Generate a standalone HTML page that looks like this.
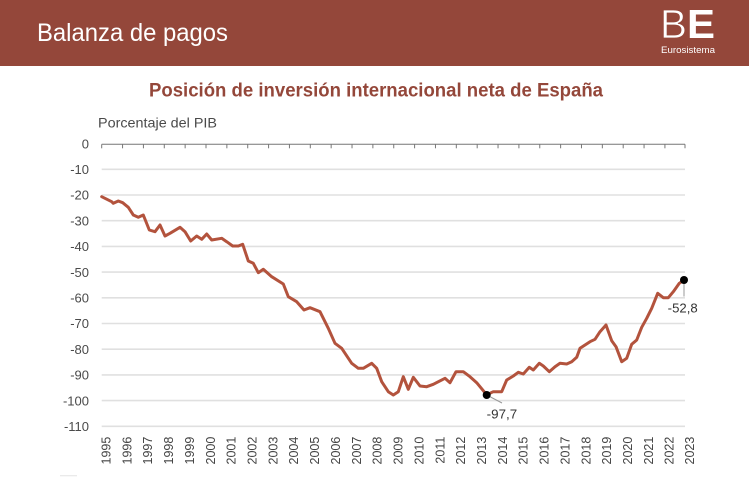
<!DOCTYPE html>
<html><head><meta charset="utf-8"><style>
html,body{margin:0;padding:0;background:#fff;}
svg{display:block;}
text{font-family:"Liberation Sans",Arial,sans-serif;}
</style></head><body>
<svg width="749" height="499" viewBox="0 0 749 499" xmlns="http://www.w3.org/2000/svg">
<rect x="0" y="0" width="749" height="66" fill="#94473a"/>
<text x="37" y="41" font-size="25" fill="#fff" textLength="191" lengthAdjust="spacingAndGlyphs">Balanza de pagos</text>
<text x="660" y="38" font-size="41" fill="#fff" font-weight="300" textLength="27" lengthAdjust="spacingAndGlyphs" stroke="#94473a" stroke-width="0.8">B</text>
<text x="687" y="38" font-size="41" fill="#fff" font-weight="bold" textLength="28" lengthAdjust="spacingAndGlyphs">E</text>
<text x="661" y="53" font-size="9" fill="#fff" textLength="54" lengthAdjust="spacingAndGlyphs">Eurosistema</text>
<text x="149" y="96.7" font-size="19.2" font-weight="bold" fill="#94473a" textLength="454" lengthAdjust="spacingAndGlyphs">Posición de inversión internacional neta de España</text>
<text x="98" y="127.3" font-size="14" fill="#4a4a4a" textLength="119" lengthAdjust="spacingAndGlyphs">Porcentaje del PIB</text>
<g stroke="#e0e0e0" stroke-width="1.6">
<line x1="101.7" y1="169.3" x2="685" y2="169.3"/>
<line x1="101.7" y1="195" x2="685" y2="195"/>
<line x1="101.7" y1="220.7" x2="685" y2="220.7"/>
<line x1="101.7" y1="246.4" x2="685" y2="246.4"/>
<line x1="101.7" y1="272.1" x2="685" y2="272.1"/>
<line x1="101.7" y1="297.8" x2="685" y2="297.8"/>
<line x1="101.7" y1="323.5" x2="685" y2="323.5"/>
<line x1="101.7" y1="349.2" x2="685" y2="349.2"/>
<line x1="101.7" y1="374.9" x2="685" y2="374.9"/>
<line x1="101.7" y1="400.6" x2="685" y2="400.6"/>
<line x1="101.7" y1="426.3" x2="685" y2="426.3"/>
</g>
<line x1="101.7" y1="144.3" x2="685" y2="144.3" stroke="#777" stroke-width="1"/>
<g stroke="#777" stroke-width="1" id="ticks">
<line x1="101.7" y1="144.3" x2="101.7" y2="148.3"/><line x1="122.56" y1="144.3" x2="122.56" y2="148.3"/><line x1="143.42" y1="144.3" x2="143.42" y2="148.3"/><line x1="164.28" y1="144.3" x2="164.28" y2="148.3"/><line x1="185.14" y1="144.3" x2="185.14" y2="148.3"/><line x1="206" y1="144.3" x2="206" y2="148.3"/><line x1="226.86" y1="144.3" x2="226.86" y2="148.3"/><line x1="247.72" y1="144.3" x2="247.72" y2="148.3"/><line x1="268.58" y1="144.3" x2="268.58" y2="148.3"/><line x1="289.44" y1="144.3" x2="289.44" y2="148.3"/><line x1="310.3" y1="144.3" x2="310.3" y2="148.3"/><line x1="331.16" y1="144.3" x2="331.16" y2="148.3"/><line x1="352.02" y1="144.3" x2="352.02" y2="148.3"/><line x1="372.88" y1="144.3" x2="372.88" y2="148.3"/><line x1="393.74" y1="144.3" x2="393.74" y2="148.3"/><line x1="414.6" y1="144.3" x2="414.6" y2="148.3"/><line x1="435.46" y1="144.3" x2="435.46" y2="148.3"/><line x1="456.32" y1="144.3" x2="456.32" y2="148.3"/><line x1="477.18" y1="144.3" x2="477.18" y2="148.3"/><line x1="498.04" y1="144.3" x2="498.04" y2="148.3"/><line x1="518.9" y1="144.3" x2="518.9" y2="148.3"/><line x1="539.76" y1="144.3" x2="539.76" y2="148.3"/><line x1="560.62" y1="144.3" x2="560.62" y2="148.3"/><line x1="581.48" y1="144.3" x2="581.48" y2="148.3"/><line x1="602.34" y1="144.3" x2="602.34" y2="148.3"/><line x1="623.2" y1="144.3" x2="623.2" y2="148.3"/><line x1="644.06" y1="144.3" x2="644.06" y2="148.3"/><line x1="664.92" y1="144.3" x2="664.92" y2="148.3"/><line x1="685" y1="144.3" x2="685" y2="148.3"/>
</g>
<g font-size="13" fill="#4a4a4a" text-anchor="end">
<text x="89" y="148.3">0</text>
<text x="89" y="174">-10</text>
<text x="89" y="199.7">-20</text>
<text x="89" y="225.4">-30</text>
<text x="89" y="251.1">-40</text>
<text x="89" y="276.8">-50</text>
<text x="89" y="302.5">-60</text>
<text x="89" y="328.2">-70</text>
<text x="89" y="353.9">-80</text>
<text x="89" y="379.6">-90</text>
<text x="89" y="405.3">-100</text>
<text x="89" y="431">-110</text>
</g>
<g font-size="12.5" fill="#444" text-anchor="end">
<text transform="translate(110.5,436.7) rotate(-90)">1995</text>
<text transform="translate(131.36,436.7) rotate(-90)">1996</text>
<text transform="translate(152.22,436.7) rotate(-90)">1997</text>
<text transform="translate(173.08,436.7) rotate(-90)">1998</text>
<text transform="translate(193.94,436.7) rotate(-90)">1999</text>
<text transform="translate(214.8,436.7) rotate(-90)">2000</text>
<text transform="translate(235.66,436.7) rotate(-90)">2001</text>
<text transform="translate(256.52,436.7) rotate(-90)">2002</text>
<text transform="translate(277.38,436.7) rotate(-90)">2003</text>
<text transform="translate(298.24,436.7) rotate(-90)">2004</text>
<text transform="translate(319.1,436.7) rotate(-90)">2005</text>
<text transform="translate(339.96,436.7) rotate(-90)">2006</text>
<text transform="translate(360.82,436.7) rotate(-90)">2007</text>
<text transform="translate(381.68,436.7) rotate(-90)">2008</text>
<text transform="translate(402.54,436.7) rotate(-90)">2009</text>
<text transform="translate(423.4,436.7) rotate(-90)">2010</text>
<text transform="translate(444.26,436.7) rotate(-90)">2011</text>
<text transform="translate(465.12,436.7) rotate(-90)">2012</text>
<text transform="translate(485.98,436.7) rotate(-90)">2013</text>
<text transform="translate(506.84,436.7) rotate(-90)">2014</text>
<text transform="translate(527.7,436.7) rotate(-90)">2015</text>
<text transform="translate(548.56,436.7) rotate(-90)">2016</text>
<text transform="translate(569.42,436.7) rotate(-90)">2017</text>
<text transform="translate(590.28,436.7) rotate(-90)">2018</text>
<text transform="translate(611.14,436.7) rotate(-90)">2019</text>
<text transform="translate(632,436.7) rotate(-90)">2020</text>
<text transform="translate(652.86,436.7) rotate(-90)">2021</text>
<text transform="translate(673.72,436.7) rotate(-90)">2022</text>
<text transform="translate(693.8,436.7) rotate(-90)">2023</text>
</g>
<polyline fill="none" stroke="#b3533d" stroke-width="3" stroke-linejoin="round" stroke-linecap="round" points="101.7,196.7 111.7,201.7 113.3,203.3 118.3,201 122.7,202.7 128.3,207.3 133.3,215 138.3,217.3 143.3,215 149.3,230 155,231.7 160,225 165,236 170,233.3 180,227.3 185,231.7 190.7,241 196.7,236 201.7,239.3 206.7,234 211.7,240 221.7,238.3 226.7,241.7 232.7,246 238.3,246 242.7,244.3 248.3,261 253.3,263.3 258.3,272.7 263.3,269.3 271.7,276.7 283.3,284 288.3,296.7 296.7,301.7 304,310 310,307.7 320,311.7 328.3,328.3 335,343.3 341.7,348.3 351.7,363.3 358.3,368.3 363.3,368.3 371.7,363.3 376.7,368.3 381.7,381.7 388.3,391.7 393.3,395 398.3,391.7 403.3,376.7 408.3,389.3 413.3,377.3 420,386 426.7,386.7 433.3,384.3 445,378.3 450,382.7 456,371.7 463.3,371.7 470,376.7 476.7,382.7 486.7,394.8 493.3,391.7 501.7,391.7 506.7,380 513.3,376 518.3,372.3 523.3,374 529.3,367.3 533.3,370 539.3,363.3 543.3,366 549.3,371.7 555,366.7 560,363.3 566.7,364 571.7,361.7 576.7,357.3 580,348.3 585,345 590,341.7 595,339.3 600,331.7 606,325 611.7,340.7 616,346.7 621.7,361.7 626.7,358.3 631.7,344.3 636.7,340 641.7,327.3 646.7,318.3 651.7,308.3 657.7,293.3 663.3,297.7 668.3,297.7 673.3,291.7 679.3,283.3 684,280"/>
<line x1="486.7" y1="395" x2="502" y2="403" stroke="#999" stroke-width="1"/>
<line x1="684" y1="282" x2="684" y2="296.5" stroke="#999" stroke-width="1"/>
<circle cx="486.7" cy="395" r="4" fill="#000"/>
<circle cx="684" cy="280" r="4" fill="#000"/>
<text x="486.7" y="418.3" font-size="13" fill="#333" textLength="30.5" lengthAdjust="spacingAndGlyphs">-97,7</text>
<text x="667.7" y="312.4" font-size="13" fill="#333" textLength="30" lengthAdjust="spacingAndGlyphs">-52,8</text>
<line x1="60" y1="475.7" x2="77" y2="475.7" stroke="#e3e3e3" stroke-width="1"/>
</svg>
</body></html>
